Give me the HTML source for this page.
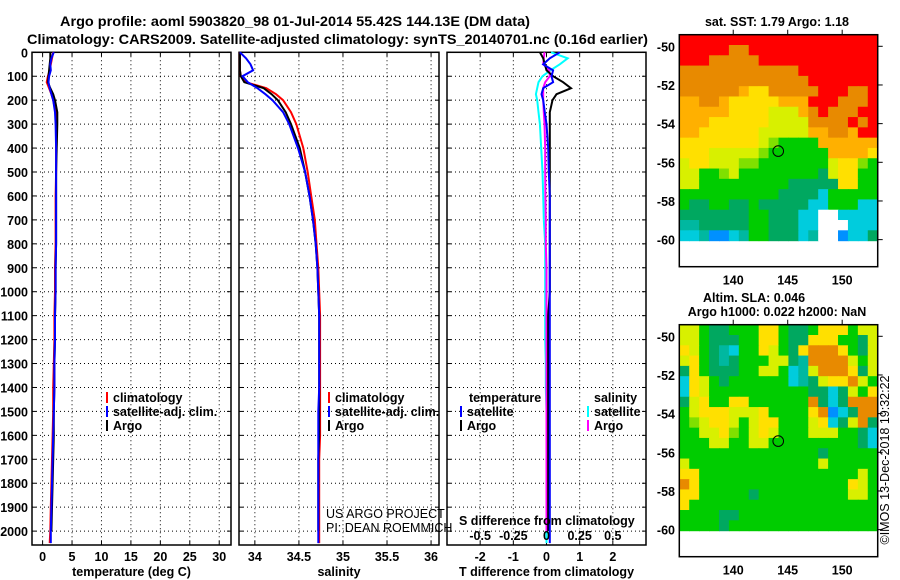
<!DOCTYPE html>
<html><head><meta charset="utf-8"><style>
html,body{margin:0;padding:0;background:#fff;}
svg{display:block;font-family:"Liberation Sans",Arial,sans-serif;}
.t{font-weight:bold;font-size:12.5px;}
.ti{font-weight:bold;font-size:14px;}
</style></head><body>
<svg id="fig" width="900" height="580" viewBox="0 0 900 580" xmlns="http://www.w3.org/2000/svg">
<rect width="900" height="580" fill="#fff"/>
<text class="ti" x="60" y="26" textLength="470" lengthAdjust="spacingAndGlyphs">Argo profile: aoml 5903820_98 01-Jul-2014 55.42S 144.13E (DM data)</text>
<text class="ti" x="27" y="44" textLength="621" lengthAdjust="spacingAndGlyphs">Climatology: CARS2009. Satellite-adjusted climatology: synTS_20140701.nc (0.16d earlier)</text>
<g id="panels"></g>
<g id="maps"></g>
</svg>
<script>
// ---------- profile data ----------
const depths = [0,25,50,75,100,125,150,175,200,250,300,400,500,600,700,800,900,1000,1100,1200,1300,1400,1500,1600,1700,1800,1900,2000,2050];
const tempClim = [1.8,1.6,1.4,1.2,0.9,0.7,1.1,1.5,1.8,2.2,2.3,2.3,2.3,2.2,2.2,2.2,2.1,2.1,2.0,2.0,1.9,1.8,1.8,1.7,1.6,1.5,1.4,1.3,1.2];
const tempSat  = [1.9,1.5,1.3,1.4,1.1,1.0,1.2,1.5,1.8,2.1,2.2,2.3,2.3,2.3,2.3,2.3,2.2,2.2,2.1,2.1,2.0,2.0,1.9,1.8,1.7,1.6,1.5,1.4,1.4];
const tempArgo = [1.3,1.3,1.2,1.1,1.0,0.9,1.3,1.8,2.1,2.5,2.5,2.4,2.3,2.3,2.3,2.3,2.2,2.2,2.1,2.1,2.0,2.0,1.9,1.9,1.8,1.7,1.6,1.5,null];
const salClim = [33.83,33.83,33.83,33.83,33.84,33.9,34.13,34.24,34.32,34.41,34.47,34.55,34.6,34.64,34.68,34.7,34.72,34.73,34.74,34.74,34.74,34.74,34.74,34.74,34.73,34.73,34.73,34.73,34.73];
const salSat  = [33.83,33.9,33.95,33.98,33.86,33.92,34.03,34.12,34.2,34.32,34.39,34.49,34.57,34.62,34.66,34.69,34.71,34.72,34.73,34.73,34.73,34.73,34.72,34.72,34.72,34.72,34.72,34.72,34.72];
const salArgo = [33.83,33.83,33.83,33.83,33.84,33.88,34.1,34.19,34.26,34.35,34.41,34.51,34.57,34.62,34.66,34.69,34.71,34.72,34.73,34.73,34.73,34.73,34.73,34.73,34.72,34.72,34.72,34.72,null];
const tDiffSat  = [0.4,0.1,-0.1,0.2,0.15,0.2,-0.1,-0.15,-0.1,-0.05,0.0,0.05,0.07,0.1,0.1,0.1,0.1,0.1,0.1,0.1,0.1,0.1,0.1,0.1,0.1,0.1,0.1,0.1,0.1];
const tDiffArgo = [-0.2,-0.1,-0.05,0.0,0.2,0.5,0.74,0.3,0.18,0.1,0.1,0.1,0.1,0.1,0.1,0.1,0.1,0.1,0.05,0.05,0.05,0.05,0.05,0.05,0.05,0.05,0.05,0.05,null];
const sDiffSat  = [0.035,0.16,0.1,0.03,-0.03,-0.06,-0.07,-0.08,-0.07,-0.06,-0.05,-0.04,-0.03,-0.025,-0.02,-0.01,-0.01,-0.01,-0.01,-0.01,-0.005,-0.005,0.0,0.0,0.0,0.0,0.0,0.0,0.0];
const sDiffArgo = [-0.015,-0.02,-0.025,0.02,0.025,-0.01,-0.025,-0.025,-0.025,-0.02,-0.015,-0.01,-0.01,-0.008,-0.005,-0.005,0,0,0,0,0,0,0,0,0,0,0,0,null];
const yTicks = [0,100,200,300,400,500,600,700,800,900,1000,1100,1200,1300,1400,1500,1600,1700,1800,1900,2000];
const tempTicks = [0,5,10,15,20,25,30];
const salTicks = [34,34.5,35,35.5,36];
const tdTicks = [-2,-1,0,1,2];
const sdTicks = [-0.5,-0.25,0,0.25,0.5];

const NS='http://www.w3.org/2000/svg';
function mk(tag,attrs,parent,txt){const e=document.createElementNS(NS,tag);for(const k in attrs)e.setAttribute(k,attrs[k]);if(txt!==undefined)e.textContent=txt;parent.appendChild(e);return e;}
const TOP=52.3, BOT=545;
const yScale = d => TOP + d*(BOT-TOP)/2058;
const panelsG=document.getElementById('panels');

function panel(name,x0,x1,dom,ticks,tickLbl,xlabel){
  const g=mk('g',{},panelsG);
  
  
  const xs=v=>x0+(v-dom[0])*(x1-x0)/(dom[1]-dom[0]);
  // grid
  yTicks.forEach(d=>{ if(d>0){const l=mk('line',{x1:x0,x2:x1,y1:yScale(d),y2:yScale(d),stroke:'#000','stroke-width':1,'stroke-dasharray':'1,3'},g);
    
    }
    mk('line',{x1:x0,x2:x0+4,y1:yScale(d),y2:yScale(d),stroke:'#000'},g);
    mk('line',{x1:x1-4,x2:x1,y1:yScale(d),y2:yScale(d),stroke:'#000'},g);
  });
  ticks.forEach(v=>{const l=mk('line',{x1:xs(v),x2:xs(v),y1:TOP,y2:BOT,stroke:'#000','stroke-dasharray':'1,3'},g);
    
    
    mk('line',{x1:xs(v),x2:xs(v),y1:BOT-4,y2:BOT,stroke:'#000'},g);
    mk('line',{x1:xs(v),x2:xs(v),y1:TOP,y2:TOP+4,stroke:'#000'},g);
    const t=mk('text',{x:xs(v),y:561,'text-anchor':'middle',class:'t'},g,tickLbl(v));
    
    
  });
  const r=mk('rect',{x:x0,y:TOP,width:x1-x0,height:BOT-TOP,fill:'none',stroke:'#000','stroke-width':1.5},g);
  
  
  const xl=mk('text',{x:(x0+x1)/2,y:576,'text-anchor':'middle',class:'t'},g,xlabel);
  
  
  return {g,xs};
}
function series(p,vals,color,name,mult){
  let pts=[];depths.forEach((d,i)=>{if(vals[i]!==null)pts.push(p.xs(vals[i]*(mult||1)).toFixed(1)+','+yScale(d).toFixed(1));});
  const l=mk('polyline',{points:pts.join(' '),fill:'none',stroke:color,'stroke-width':2},p.g);
  
  
}
function legend(g,x,y,color,label){
  mk('line',{x1:x,x2:x,y1:y-10,y2:y+1,stroke:color,'stroke-width':2},g);
  const t=mk('text',{x:x+6,y:y,class:'t'},g,label);
  
  
}
// y tick labels
const yl=mk('g',{},panelsG);


yTicks.forEach(d=>{const t=mk('text',{x:28,y:yScale(d)+5,'text-anchor':'end',class:'t'},yl,String(d));
  
  });

const p1=panel('temperature-panel',32,231,[-1.8,32],tempTicks,v=>String(v),'temperature (deg C)');
series(p1,tempClim,'#f00','temp-climatology-line');
series(p1,tempArgo,'#000','temp-argo-line');
series(p1,tempSat,'#00f','temp-satellite-line');
legend(p1.g,107,402,'#f00','climatology');
legend(p1.g,107,416,'#00f','satellite-adj. clim.');
legend(p1.g,107,430,'#000','Argo');

const p2=panel('salinity-panel',239,439,[33.82,36.09],salTicks,v=>String(v),'salinity');
series(p2,salClim,'#f00','sal-climatology-line');
series(p2,salArgo,'#000','sal-argo-line');
series(p2,salSat,'#00f','sal-satellite-line');
legend(p2.g,329,402,'#f00','climatology');
legend(p2.g,329,416,'#00f','satellite-adj. clim.');
legend(p2.g,329,430,'#000','Argo');
const c1=mk('text',{x:326,y:518,'font-size':'12.5px'},p2.g,'US ARGO PROJECT');


const c2=mk('text',{x:326,y:532,'font-size':'12.5px'},p2.g,'PI: DEAN ROEMMICH');



const p3=panel('difference-panel',447,646,[-3,3],tdTicks,v=>String(v),'T difference from climatology');
series(p3,sDiffSat,'#0ff','s-diff-satellite-line',4);
series(p3,sDiffArgo,'#f0f','s-diff-argo-line',4);
series(p3,tDiffArgo,'#000','t-diff-argo-line');
series(p3,tDiffSat,'#00f','t-diff-satellite-line');
const lt=mk('text',{x:469,y:402,class:'t'},p3.g,'temperature');


const ls=mk('text',{x:594,y:402,class:'t'},p3.g,'salinity');


legend(p3.g,461,416,'#00f','satellite');
legend(p3.g,461,430,'#000','Argo');
legend(p3.g,588,416,'#0ff','satellite');
legend(p3.g,588,430,'#f0f','Argo');
const st=mk('text',{x:459,y:525,class:'t'},p3.g,'S difference from climatology');


sdTicks.forEach(v=>{const t=mk('text',{x:p3.xs(v*4),y:540,'text-anchor':'middle',class:'t'},p3.g,String(v).replace('0.','0.'));
  
  });

// ---------- maps ----------
const palette={R:'#ff0000',O:'#e88a00',o:'#ffb000',Y:'#ffe000',y:'#d8f000',g:'#80e000',G:'#00cc00',D:'#00a860',T:'#00b8a0',C:'#00ccdd',B:'#0090ff',W:'#ffffff'};
const sstRows=[
"RRRRRRRRRRRRRRRRRRRR",
"RRRRROORRRRRRRRRRRRR",
"RRROOOOORRRRRRRRRRRR",
"OOOOOOOOOOOORRRRRRRR",
"OOOOOOOOOOOOORRRRRRR",
"OOOOOOoYYOOOOORRROOR",
"ooOOoYYYYYoooRRROOOR",
"oooooYYYYyyyoOROOORR",
"oooYYYYYYyyyyOOOOROR",
"ooYYYYYYyyyyyooOOoRR",
"YYYYYYYYygGGGGoooooo",
"YYYyyyyygGGGGGGooooY",
"yYYyyyggGGGGGGGyYYgG",
"yyGGgyGGGGGGGGDyYYGG",
"yyGGGGGGGGGDDDDDYYGG",
"GGGGGGGGGGDDDDCGGGGG",
"GDDGGDDGDDDDDCCGGGCC",
"DDDDDDDGGDDDCCWWCCCC",
"TTDDDDDGGDDDCCWWWCCC",
"CCTBBCTGGDDDCTWWBCCD"];
const slaRows=[
"yyGDDGGGYYGDDGYYYGyy",
"yyGDDDGGYYGDDYYYGGDy",
"YyGDTCGGYyGDYOOOYGDy",
"yYGDTDGGGyyDTOOOOyGy",
"DYGDDDGGyyGCTyOOOYDy",
"CYyGDGGGGGGCTDyYYOyG",
"CYyGGGGGGGGGGDDCDyGY",
"DyYGGYYGGGGGGODCDOOO",
"GyYYYyyyYGGGGYOBCDOO",
"GgyYYyGyYYGGGyYCDyOD",
"GGyyYgGyYyGGGyyyGGDC",
"GGGyyGGyyGGGGGGGGGDC",
"GGGGGGGGGGGGGGDGGGGG",
"yGGGGGGGGGGGGGyGGGGG",
"YYGGGGGGGGGGGGGGGGyG",
"OYGGGGGGGGGGGGGGGYyG",
"YYGGGGGDGGGGGGGGGyyG",
"YGGGGGGGGGGGGGGGGGGG",
"GGGGDDGGGGGGGGGGGGGG",
"GGGGDGGGGGGGGGGGGGGG"];
const lonTicks=[140,145,150];
const latTicks=[-50,-52,-54,-56,-58,-60];
const floatLon=144.13, floatLat=-55.42;
const mapsG=document.getElementById('maps');
function map(name,oy,rows,titles){
  const g=mk('g',{},mapsG);
  
  
  const X0=679.3,X1=877.7,Y0=34.7+oy,Y1=266.7+oy;
  const lx=v=>X0+(v-135.05)*(X1-X0)/(153.26-135.05);
  const ly=v=>Y0+(-49.4-v)*(Y1-Y0)/(61.4-49.4);
  const dataBottom=ly(-60.05);
  const nr=rows.length,nc=rows[0].length;
  const cw=(X1-X0)/nc,ch=(dataBottom-Y0)/nr;
  rows.forEach((row,r)=>{[...row].forEach((c,k)=>{
    const cell=mk('rect',{x:(X0+k*cw).toFixed(2),y:(Y0+r*ch).toFixed(2),width:(cw+0.6).toFixed(2),height:(ch+0.6).toFixed(2),fill:palette[c]},g);
    
    
  });});
  const fr=mk('rect',{x:X0,y:Y0,width:X1-X0,height:Y1-Y0,fill:'none',stroke:'#000','stroke-width':1.5},g);
  
  
  lonTicks.forEach(v=>{mk('line',{x1:lx(v),x2:lx(v),y1:Y0-5,y2:Y0,stroke:'#000'},g);
    const t=mk('text',{x:lx(v),y:Y1+18,'text-anchor':'middle',class:'t','font-size':'13px'},g,String(v));
    
    });
  latTicks.forEach(v=>{mk('line',{x1:X1,x2:X1+5,y1:ly(v),y2:ly(v),stroke:'#000'},g);
    const t=mk('text',{x:675,y:ly(v)+5,'text-anchor':'end',class:'t'},g,String(v));
    
    });
  const m=mk('circle',{cx:lx(floatLon),cy:ly(floatLat),r:5.3,fill:'none',stroke:'#000','stroke-width':1},g);
  
  
  titles.forEach(tt=>{const t=mk('text',{x:tt[0],y:tt[1],'text-anchor':'middle',class:'t'},g,tt[2]);
    
    });
}
map('sst-map',0,sstRows,[[777,26,'sat. SST: 1.79 Argo: 1.18']]);
map('sla-map',290,slaRows,[[754,302,'Altim. SLA: 0.046'],[777,316,'Argo h1000: 0.022 h2000: NaN']]);
const cr=mk('text',{x:0,y:0,'text-anchor':'middle','font-size':'12.5px',transform:'translate(889,460) rotate(-90)'},mapsG,'©IMOS 13-Dec-2018 19:32:22');


</script>
</body></html>
